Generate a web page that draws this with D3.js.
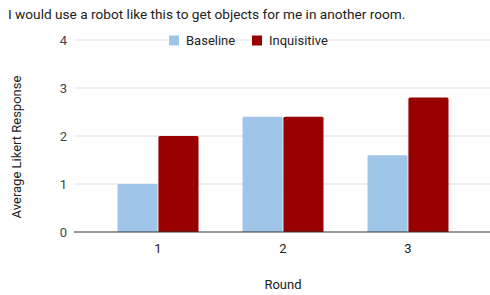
<!DOCTYPE html>
<html><head><meta charset="utf-8">
<script src="https://cdn.jsdelivr.net/npm/d3@7/dist/d3.min.js"></script>
<style>body{margin:0;background:#fff}svg{display:block;font-family:Roboto,Arial,sans-serif}</style>
</head><body><svg id="c" width="490" height="295"></svg>
<script>
const title = "I would use a robot like this to get objects for me in another room.";
const categories = ["1", "2", "3"];
const seriesNames = ["Baseline", "Inquisitive"];
const baseline = [1, 2.4, 1.6];
const inquisitive = [2, 2.4, 2.8];
const yTicks = [0, 1, 2, 3, 4];
const colors = ["#9fc5e8", "#990000"];
const xTitle = "Round", yTitle = "Average Likert Response";

const svg = d3.select("#c");
const pLeft = 74, pRight = 490, pTop = 40, pBottom = 232;
const y = d3.scaleLinear().domain([0, 4]).range([pBottom, pTop]);
const x0 = d3.scaleBand().domain(categories).range([95.5, 470.5]).paddingInner(0.352).paddingOuter(0.176);
const x1 = d3.scaleBand().domain(seriesNames).range([0, x0.bandwidth()]).paddingInner(0.02);

svg.append("text").attr("x", 8).attr("y", 19).attr("font-size", 13.65).attr("fill", "#222").text(title);

// gridlines
svg.append("g").selectAll("line").data(yTicks.filter(d => d > 0)).join("line")
  .attr("x1", pLeft).attr("x2", pRight).attr("y1", d => y(d)).attr("y2", d => y(d))
  .attr("stroke", "#e0e0e0").attr("stroke-width", 1);

// y tick labels
svg.append("g").selectAll("text").data(yTicks).join("text")
  .attr("x", 67).attr("y", d => y(d) + 4.5).attr("text-anchor", "end")
  .attr("font-size", 13).attr("fill", "#444").text(d => d);

// bars
const data = [baseline, inquisitive];
const g = svg.append("g");
categories.forEach((c, i) => {
  seriesNames.forEach((s, j) => {
    const v = data[j][i];
    const bx = x0(c) + x1(s), bw = x1.bandwidth(), by = y(v), bh = y(0) - y(v), r = 1.5;
    g.append("path").attr("fill", colors[j])
      .attr("d", `M${bx},${by + bh}V${by + r}Q${bx},${by} ${bx + r},${by}H${bx + bw - r}Q${bx + bw},${by} ${bx + bw},${by + r}V${by + bh}Z`);
  });
});

// x axis line
svg.append("line").attr("x1", pLeft).attr("x2", pRight).attr("y1", pBottom).attr("y2", pBottom)
  .attr("stroke", "#333").attr("stroke-width", 1);

// x tick labels
svg.append("g").selectAll("text").data(categories).join("text")
  .attr("x", d => x0(d) + x0.bandwidth() / 2).attr("y", 253).attr("text-anchor", "middle")
  .attr("font-size", 13).attr("fill", "#222").text(d => d);

// axis titles
svg.append("text").attr("x", 283).attr("y", 289).attr("text-anchor", "middle")
  .attr("font-size", 13).attr("fill", "#222").text(xTitle);
svg.append("text").attr("transform", "translate(21,147) rotate(-90)").attr("text-anchor", "middle")
  .attr("font-size", 13).attr("fill", "#222").text(yTitle);

// legend
const legX = [169, 252];
seriesNames.forEach((s, j) => {
  const lg = svg.append("g");
  const t = lg.append("text").attr("x", legX[j] + 17).attr("y", 45).attr("font-size", 13).attr("fill", "#222").text(s);
  const w = t.node().getComputedTextLength();
  lg.insert("rect", "text").attr("x", legX[j] - 1).attr("y", 33).attr("width", w + 19).attr("height", 15).attr("fill", "#fff");
  lg.append("rect").attr("x", legX[j]).attr("y", 35.5).attr("width", 10).attr("height", 10).attr("fill", colors[j]);
});
</script></body></html>
